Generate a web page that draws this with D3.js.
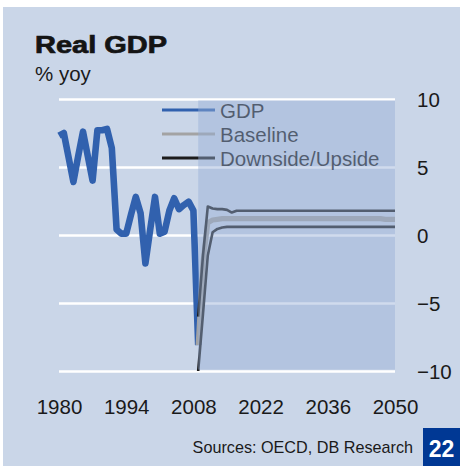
<!DOCTYPE html>
<html>
<head>
<meta charset="utf-8">
<script src="https://cdn.jsdelivr.net/npm/d3@7"></script>
<style>
  html, body { margin: 0; padding: 0; background: #ffffff; }
  svg { display: block; }
  text { font-family: "Liberation Sans", Arial, sans-serif; }
</style>
</head>
<body>
<svg id="chart" width="460" height="466"></svg>
<script>
// Real GDP, % yoy: history 1980-2009 and scenarios 2009-2050
const gdpStart = 1980;
const gdpValues = [
  7.3, 7.5, 5.7, 3.9, 5.8, 7.6, 5.8, 4.0, 7.7, 7.7,
  7.8, 6.4, 0.4, 0.1, 0.1, 1.5, 2.8, 1.6, -2.1, 0.4,
  2.8, 0.1, 0.25, 1.8, 2.7, 1.9, 2.2, 2.45, 1.8, -8.1
];

const forecastStart = 2009;
const baselineValues = [
  -8.1, -2.0, 0.9, 1.1, 1.15, 1.2, 1.2, 1.2, 1.2, 1.2,
  1.2, 1.2, 1.2, 1.2, 1.2, 1.2, 1.2, 1.2, 1.2, 1.2,
  1.2, 1.2, 1.2, 1.2, 1.2, 1.2, 1.2, 1.2, 1.2, 1.2,
  1.2, 1.2, 1.2, 1.2, 1.2, 1.2, 1.2, 1.2, 1.2, 1.15,
  1.15, 1.15
];
const upsideValues = [
  -6.0, -1.5, 2.1, 1.95, 1.9, 1.9, 1.85, 1.65, 1.78, 1.78,
  1.78, 1.78, 1.78, 1.78, 1.78, 1.78, 1.78, 1.78, 1.78, 1.78,
  1.78, 1.78, 1.78, 1.78, 1.78, 1.78, 1.78, 1.78, 1.78, 1.78,
  1.78, 1.78, 1.78, 1.78, 1.78, 1.78, 1.78, 1.78, 1.78, 1.78,
  1.78, 1.78
];
const downsideValues = [
  -10.0, -5.8, -1.5, 0.2, 0.45, 0.55, 0.6, 0.6, 0.6, 0.6,
  0.6, 0.6, 0.6, 0.6, 0.6, 0.6, 0.6, 0.6, 0.6, 0.6,
  0.6, 0.6, 0.6, 0.6, 0.6, 0.6, 0.6, 0.6, 0.6, 0.6,
  0.6, 0.6, 0.6, 0.6, 0.6, 0.6, 0.6, 0.6, 0.6, 0.6,
  0.6, 0.6
];

const xTicks = [1980, 1994, 2008, 2022, 2036, 2050];
const yTicks = [-10, -5, 0, 5, 10];
const legendLabels = ["GDP", "Baseline", "Downside/Upside"];

const titleText = "Real GDP";
const unitText = "% yoy";
const sourceText = "Sources: OECD, DB Research";
const chartNumber = "22";

// colours
const bgColor = "#cad6e8";
const gdpColor = "#3161ae";
const baseColor = "#a3a3a3";
const scenarioColor = "#1c1c1c";
const shadeColor = "rgb(150,175,215)";
const textColor = "#1a1a1a";
const badgeColor = "#003894";

const svg = d3.select("#chart");
const W = 460, H = 466;

svg.append("rect")
  .attr("x", 3).attr("y", 7)
  .attr("width", W - 3).attr("height", H - 7)
  .attr("fill", bgColor);

const plot = { left: 59, right: 395, top: 99, bottom: 371 };

const x = d3.scaleLinear().domain([1980, 2050]).range([plot.left, plot.right]);
const y = d3.scaleLinear().domain([-10, 10]).range([plot.bottom, plot.top]);

// horizontal gridlines
const grid = svg.append("g")
  .attr("transform", `translate(${plot.left},0)`)
  .call(d3.axisLeft(y).tickValues(yTicks).tickSize(-(plot.right - plot.left)).tickFormat(""));
grid.select(".domain").remove();
grid.selectAll(".tick line").attr("stroke", "#ffffff").attr("stroke-width", 2.6);

const gdpSeries = gdpValues.map((v, i) => ({ year: gdpStart + i, v }));
const toSeries = arr => arr.map((v, i) => ({ year: forecastStart + i, v }));

const line = d3.line().x(d => x(d.year)).y(d => y(d.v));

svg.append("path").datum(gdpSeries)
  .attr("d", line).attr("fill", "none")
  .attr("stroke", gdpColor).attr("stroke-width", 6.6)
  .attr("stroke-linejoin", "round").attr("stroke-linecap", "butt");

svg.append("path").datum(toSeries(baselineValues))
  .attr("d", line).attr("fill", "none")
  .attr("stroke", baseColor).attr("stroke-width", 5.2)
  .attr("stroke-linejoin", "round");

[downsideValues, upsideValues].forEach(arr => {
  svg.append("path").datum(toSeries(arr))
    .attr("d", line).attr("fill", "none")
    .attr("stroke", scenarioColor).attr("stroke-width", 2.6)
    .attr("stroke-linejoin", "round");
});

// legend
const legendColors = [gdpColor, baseColor, scenarioColor];
const legend = svg.append("g");
legendLabels.forEach((lab, i) => {
  const ly = 110 + i * 24;
  legend.append("line")
    .attr("x1", 162).attr("x2", 215).attr("y1", ly).attr("y2", ly)
    .attr("stroke", legendColors[i]).attr("stroke-width", 3.2);
  legend.append("text")
    .attr("x", 220).attr("y", ly + 7.6)
    .attr("font-size", 20.5).attr("fill", textColor)
    .text(lab);
});

// forecast period shading
svg.append("rect")
  .attr("x", x(forecastStart)).attr("y", y(10) + 1.4)
  .attr("width", x(2050) - x(forecastStart))
  .attr("height", y(-10) - y(10) - 2.8)
  .attr("fill", shadeColor).attr("fill-opacity", 0.45);

// y axis labels on the right
const yAxis = svg.append("g")
  .attr("transform", "translate(417,0)")
  .call(d3.axisRight(y).tickValues(yTicks).tickSize(0).tickPadding(0).tickFormat(d3.format("d")));
yAxis.select(".domain").remove();
yAxis.selectAll("text")
  .attr("font-size", 20.5).attr("fill", textColor)
  .attr("font-family", "Liberation Sans, Arial, sans-serif")
  .attr("dy", "0.37em").attr("text-anchor", "start");

// x axis labels
const xAxis = svg.append("g")
  .attr("transform", "translate(0,399)")
  .call(d3.axisBottom(x).tickValues(xTicks).tickSize(0).tickPadding(0).tickFormat(d3.format("d")));
xAxis.select(".domain").remove();
xAxis.selectAll("text")
  .attr("font-size", 20.5).attr("fill", textColor)
  .attr("font-family", "Liberation Sans, Arial, sans-serif")
  .attr("dy", "0.71em");

// title block
svg.append("text")
  .attr("x", 35).attr("y", 53)
  .attr("font-family", "DejaVu Sans, sans-serif")
  .attr("font-weight", "bold").attr("font-size", 23)
  .attr("textLength", 132).attr("lengthAdjust", "spacingAndGlyphs")
  .attr("fill", "#141414").attr("stroke", "#141414").attr("stroke-width", 0.7)
  .text(titleText);

svg.append("text")
  .attr("x", 35).attr("y", 81)
  .attr("font-size", 20.5).attr("fill", textColor)
  .text(unitText);

// source and chart number
svg.append("text")
  .attr("x", 413).attr("y", 452.7)
  .attr("text-anchor", "end")
  .attr("font-size", 16.2).attr("fill", textColor)
  .text(sourceText);

svg.append("rect")
  .attr("x", 423).attr("y", 428).attr("width", 37).attr("height", 38)
  .attr("fill", badgeColor);
svg.append("text")
  .attr("x", 441.5).attr("y", 457.3)
  .attr("text-anchor", "middle")
  .attr("font-weight", "bold").attr("font-size", 23)
  .attr("fill", "#ffffff")
  .text(chartNumber);
</script>
</body>
</html>
